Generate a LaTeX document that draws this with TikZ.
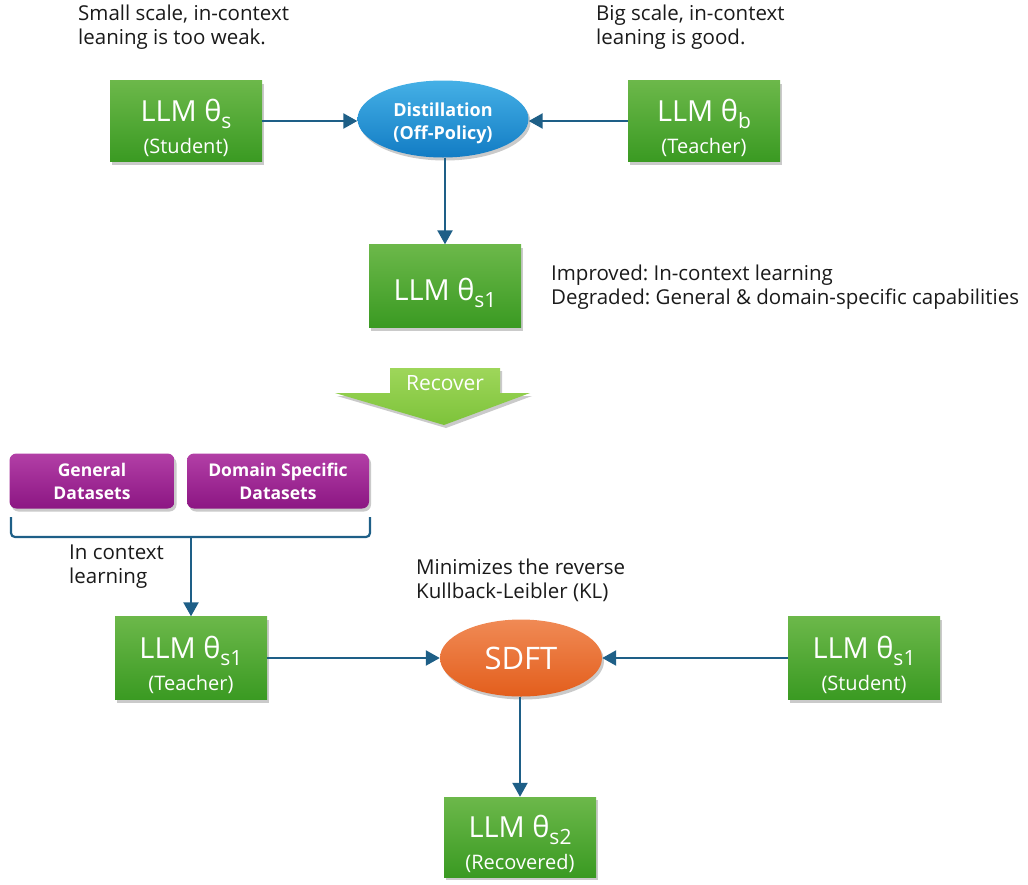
\documentclass[tikz,border=0pt]{standalone}
\usepackage{fontspec}
\setmainfont{Open Sans}
\usetikzlibrary{shapes.geometric,shadows,arrows.meta,calc}
\definecolor{gtop}{HTML}{6CB84A}
\definecolor{gbot}{HTML}{3A9A22}
\definecolor{btop}{HTML}{45B0E6}
\definecolor{bbot}{HTML}{127CC4}
\definecolor{otop}{HTML}{F08A55}
\definecolor{obot}{HTML}{E35E1C}
\definecolor{ptop}{HTML}{B23FA6}
\definecolor{pbot}{HTML}{8C1683}
\definecolor{arr}{HTML}{1E5F87}
\definecolor{rtop}{HTML}{9ED65A}
\definecolor{rbot}{HTML}{7DC33A}
\definecolor{txt}{HTML}{1A1A1A}
\frenchspacing
\newcommand{\llm}[2]{{\fontsize{29}{32}\selectfont\rule{0pt}{36pt}LLM θ\raisebox{-7pt}{\fontsize{21}{21}\selectfont #1}}\ifx&#2&\else\\[9pt]{\fontsize{20}{22}\selectfont (#2)}\fi}
\tikzset{
  shd/.style={drop shadow={shadow xshift=2pt,shadow yshift=-3pt,opacity=0.35,fill=black!60}},
  llmbox/.style={rectangle,minimum width=152pt,minimum height=81pt,top color=gtop,bottom color=gbot,
     draw=none,text=white,align=center,inner sep=0pt,shd},
  oval/.style={ellipse,minimum width=#1,minimum height=77pt,draw=none,text=white,align=center,inner sep=0pt,shd},
  databox/.style={rectangle,rounded corners=7pt,minimum height=55pt,top color=ptop,bottom color=pbot,
     draw=none,text=white,align=center,inner sep=0pt,font=\fontsize{17.5}{23}\selectfont\bfseries,shd},
  note/.style={text=txt,font=\fontsize{20.5}{24}\selectfont,inner sep=0pt},
  conn/.style={draw=arr,line width=2.4pt,-{Triangle[length=14pt,width=15pt]}},
}
\begin{document}
\begin{tikzpicture}[x=1pt,y=-1pt]
\useasboundingbox (0,0) rectangle (1028,884);

\node[note,anchor=north west,align=left] (cap1) at (78,5) {Small scale, in-context\\leaning is too weak.};
\node[note,anchor=north west,align=left] (cap2) at (596,5) {Big scale, in-context\\leaning is good.};

\node[llmbox] (stu) at (186,121) {\llm{s}{Student}};
\node[llmbox] (tea) at (704,121) {\llm{b}{Teacher}};
\node[oval=171pt,top color=btop,bottom color=bbot,font=\fontsize{18}{23}\selectfont\bfseries] (dist) at (443,119) {\rule{0pt}{22pt}Distillation\\(Off-Policy)};
\node[llmbox,minimum height=83pt] (s1) at (445,286) {\llm{s1}{}};
\node[note,anchor=west,align=left] (imp) at (551,287) {Improved: In-context learning\\Degraded: General \& domain-specific capabilities};

\draw[conn] (stu.east) -- (dist.west |- stu.east);
\draw[conn] (tea.west) -- (dist.east |- tea.west);
\draw[conn] (dist.south -| s1.north) -- (s1.north);

% Recover arrow
\shade[top color=rtop,bottom color=rbot,shd] (390,368) -- (500,368) -- (500,393) -- (530,393) -- (444,425) -- (335,393) -- (390,393) -- cycle;
\node[text=white,font=\fontsize{21}{24}\selectfont] (rec) at (445,383) {Recover};

\node[databox,minimum width=165pt] (gen) at (92,481) {General\\Datasets};
\node[databox,minimum width=182pt] (dom) at (278,481) {Domain Specific\\Datasets};

\node[llmbox,minimum height=83pt] (t2) at (191,658) {\llm{s1}{Teacher}};
\node[llmbox,minimum height=83pt] (st2) at (864,658) {\llm{s1}{Student}};
\node[oval=162pt,top color=otop,bottom color=obot,font=\fontsize{31}{34}\selectfont] (sdft) at (521,658) {SDFT};
\node[llmbox,minimum height=80pt] (rcv) at (520,837) {\llm{s2}{Recovered}};

\coordinate (bl) at (11,517);
\coordinate (br) at (370,517);
\coordinate (bm) at (191,537);
\draw[draw=arr,line width=2.2pt,rounded corners=4pt] (bl) |- (bm) -| (br);
\draw[conn] (bm) -- (t2.north);

\node[note,anchor=west,align=left] (icl) at (69,567) {In context\\learning};
\node[note,anchor=west,align=left] (kl) at (416,580) {Minimizes the reverse\\Kullback-Leibler (KL)};

\draw[conn] (t2.east) -- (sdft.west);
\draw[conn] (st2.west) -- (sdft.east);
\draw[conn] (sdft.south -| rcv.north) -- (rcv.north);
\end{tikzpicture}
\end{document}
